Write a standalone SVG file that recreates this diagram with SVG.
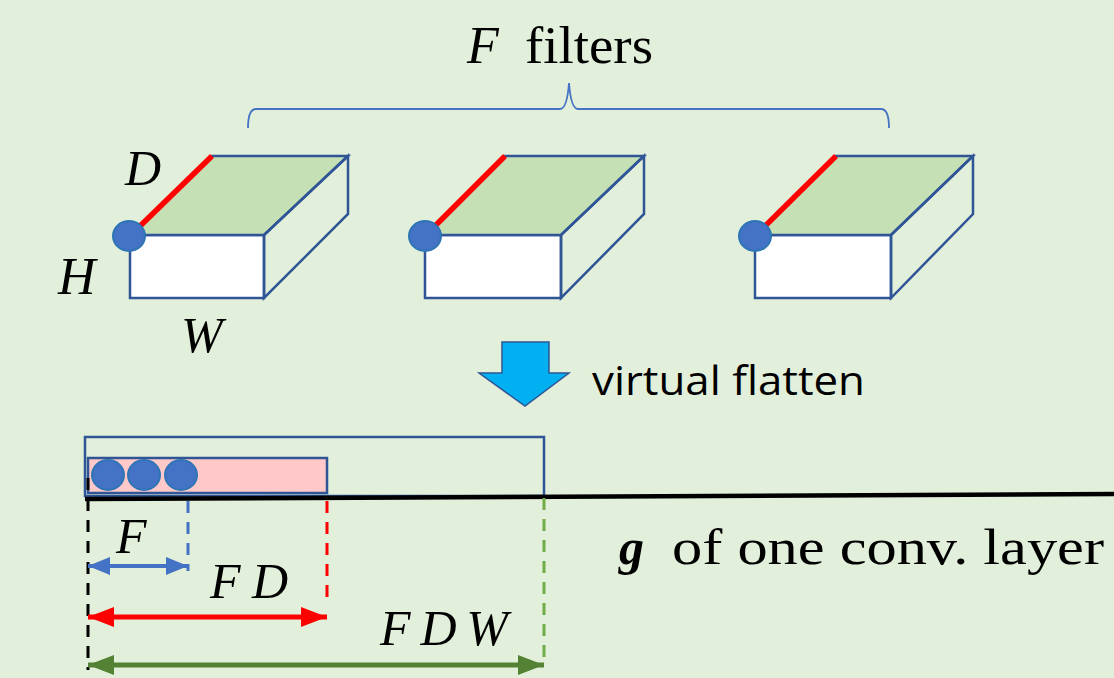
<svg xmlns="http://www.w3.org/2000/svg" width="1114" height="678" viewBox="0 0 1114 678">
<style>
.edge{stroke:#2f5597;stroke-width:2.5;stroke-linejoin:miter}
.front{fill:#ffffff}
.top{fill:#c5e0b4}
.side{fill:none}
.red{stroke:#ff0000;stroke-width:5.5;fill:none}
.dot{fill:#4472c4;stroke:#2e75b6;stroke-width:2}
.math{font-family:"Liberation Serif","DejaVu Serif",serif;font-style:italic;fill:#000}
.rm{font-family:"Liberation Serif","DejaVu Serif",serif;fill:#000}
.dash{stroke-width:3;stroke-dasharray:12 9;fill:none}
</style>
<defs>
<marker id="ahB" markerUnits="userSpaceOnUse" markerWidth="26" markerHeight="22" refX="22" refY="9" orient="auto-start-reverse"><path d="M0,0 L22,9 L0,18 z" fill="#4472c4"/></marker>
<marker id="ahR" markerUnits="userSpaceOnUse" markerWidth="30" markerHeight="24" refX="26" refY="10" orient="auto-start-reverse"><path d="M0,0 L26,10 L0,20 z" fill="#ff0000"/></marker>
<marker id="ahG" markerUnits="userSpaceOnUse" markerWidth="30" markerHeight="24" refX="26" refY="10" orient="auto-start-reverse"><path d="M0,0 L26,10 L0,20 z" fill="#548235"/></marker>
</defs>
<rect x="0" y="0" width="1114" height="678" fill="#e2efda"/>

<g id="title">
<text class="math" x="467" y="63" font-size="52">F</text>
<text class="rm" x="525" y="63" font-size="52" textLength="128" lengthAdjust="spacingAndGlyphs">filters</text>
</g>
<g id="brace">
<path d="M248,128 Q248,109 256,109 L560,109 Q567,109 569,83 Q571,109 578,109 L881,109 Q889,109 889,128" fill="none" stroke="#4472c4" stroke-width="1.8"/>
</g>

<g id="filter1">
<rect class="edge front" x="130" y="235" width="134" height="63"/>
<polygon class="edge top" points="130,235 212,156 348,156 264,235"/>
<polygon class="edge side" points="264,235 348,156 348,214 264,298"/>
<line class="red" x1="136" y1="230" x2="212" y2="156"/>
<ellipse class="dot" cx="129" cy="236" rx="16" ry="15"/>
<text class="math" x="125" y="185" font-size="50">D</text>
<text class="math" x="58" y="294" font-size="52">H</text>
<text class="math" x="181" y="352" font-size="50">W</text>
</g>
<g id="filter2">
<rect class="edge front" x="425" y="235" width="136" height="63"/>
<polygon class="edge top" points="425,235 505,156 644,156 561,235"/>
<polygon class="edge side" points="561,235 644,156 644,214 561,298"/>
<line class="red" x1="431" y1="230" x2="505" y2="156"/>
<ellipse class="dot" cx="425" cy="236" rx="16" ry="15"/>
</g>
<g id="filter3">
<rect class="edge front" x="755" y="235" width="136" height="63"/>
<polygon class="edge top" points="755,235 836,156 973,156 891,235"/>
<polygon class="edge side" points="891,235 973,156 973,214 891,298"/>
<line class="red" x1="761" y1="230" x2="836" y2="156"/>
<ellipse class="dot" cx="755" cy="236" rx="16" ry="15"/>
</g>

<g id="flatten">
<polygon points="502,342 549,342 549,373 569,373 525,406 479,373 502,373" fill="#00b0f0" stroke="#2f5597" stroke-width="1.5"/>
<text x="592" y="395" font-family="'Open Sans','Noto Sans',sans-serif" font-size="41" textLength="273" lengthAdjust="spacingAndGlyphs" fill="#000">virtual flatten</text>
</g>

<g id="vector">
<rect x="85" y="437" width="459" height="59" fill="none" stroke="#2f5597" stroke-width="2.5"/>
<rect x="88" y="458" width="239" height="35" fill="#ffc9c9" stroke="#2f5597" stroke-width="2.5"/>
<ellipse class="dot" cx="108" cy="475" rx="16" ry="15"/>
<ellipse class="dot" cx="144" cy="475" rx="16" ry="15"/>
<ellipse class="dot" cx="181" cy="475" rx="16" ry="15"/>
</g>

<g id="g-label">
<text x="619" y="564" font-family="'Liberation Serif','DejaVu Serif',serif" font-size="50" font-style="italic" font-weight="bold" fill="#000">g</text>
<text class="rm" x="672" y="564" font-size="50" textLength="432" lengthAdjust="spacingAndGlyphs">of one conv. layer</text>
</g>

<g id="connectors">
<line x1="85" y1="499" x2="1114" y2="494" stroke="#000" stroke-width="4.5"/>
<line class="dash" x1="88" y1="478" x2="88" y2="670" stroke="#000"/>
<line class="dash" x1="188" y1="501" x2="188" y2="571" stroke="#4472c4"/>
<line class="dash" x1="327" y1="501" x2="327" y2="606" stroke="#ff0000"/>
<line class="dash" x1="544" y1="498" x2="544" y2="664" stroke="#70ad47"/>
<line x1="88" y1="566" x2="188" y2="566" stroke="#4472c4" stroke-width="4" marker-start="url(#ahB)" marker-end="url(#ahB)"/>
<line x1="88" y1="617" x2="327" y2="617" stroke="#ff0000" stroke-width="5" marker-start="url(#ahR)" marker-end="url(#ahR)"/>
<line x1="88" y1="665" x2="544" y2="665" stroke="#548235" stroke-width="5" marker-start="url(#ahG)" marker-end="url(#ahG)"/>
</g>

<g id="dim-labels">
<text class="math" x="116" y="553" font-size="50">F</text>
<text class="math" x="210" y="598" font-size="50" textLength="78" lengthAdjust="spacing">FD</text>
<text class="math" x="380" y="645" font-size="50" textLength="128" lengthAdjust="spacing">FDW</text>
</g>
</svg>
